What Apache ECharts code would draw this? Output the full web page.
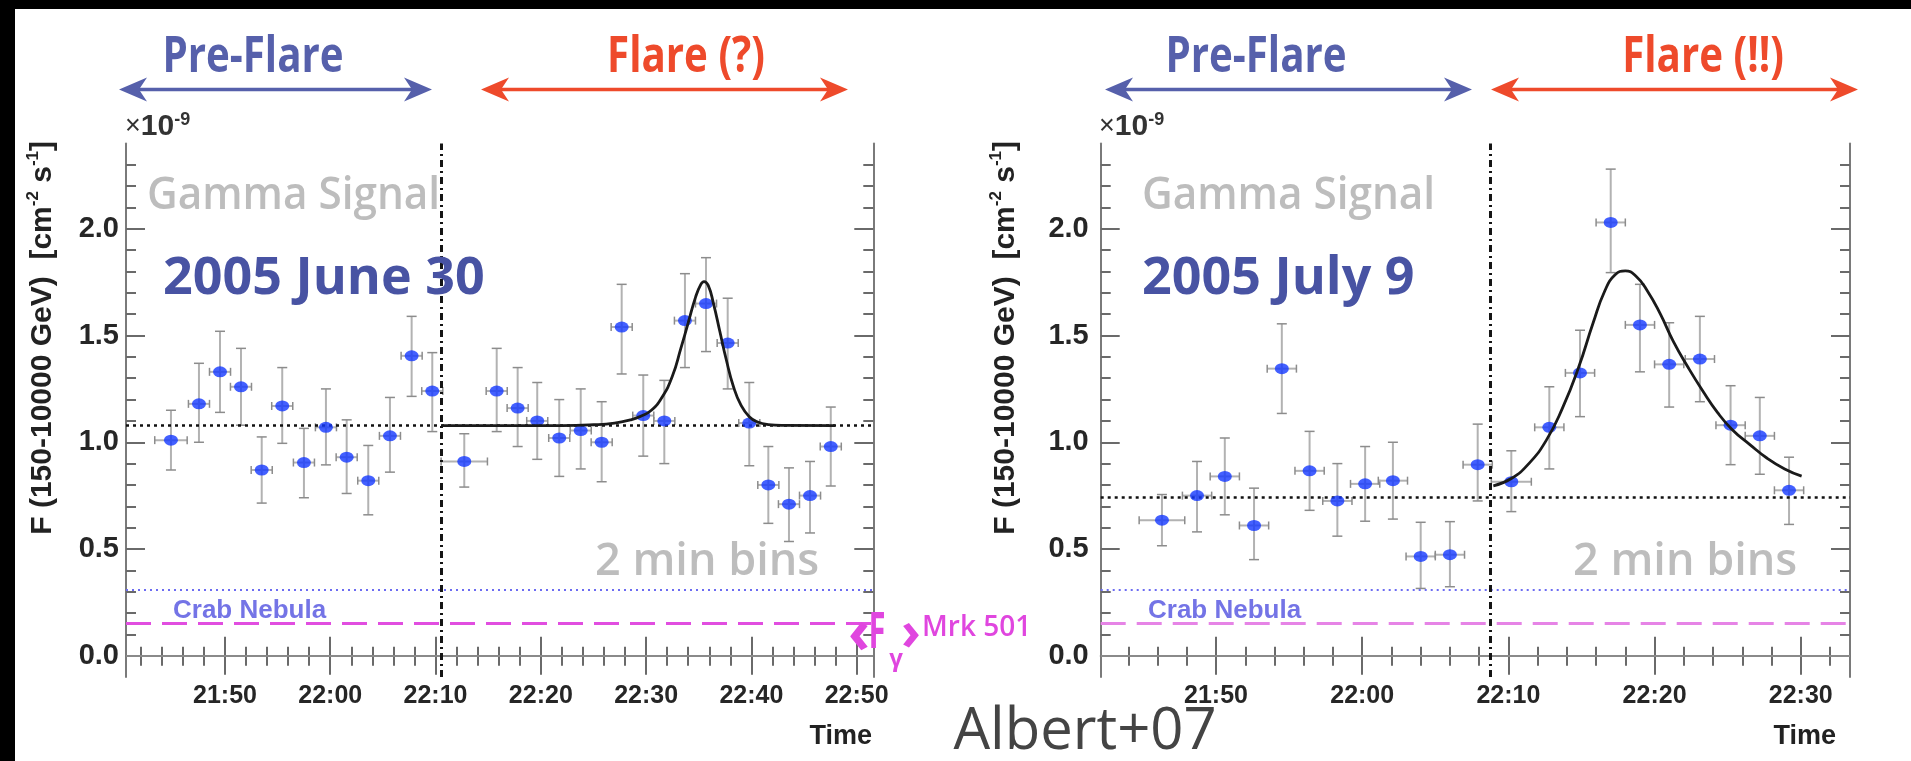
<!DOCTYPE html>
<html><head><meta charset="utf-8">
<script src="https://cdn.jsdelivr.net/npm/echarts@6/dist/echarts.min.js"></script>
<style>html,body{margin:0;padding:0;background:#fff;overflow:hidden}#c{width:1911px;height:761px}</style>
</head><body><div id="c"></div>
<script>
// ---------------- data (time in minutes after 21:00 UTC, flux in 1e-9 cm^-2 s^-1) ----------------
const junTime    = [44.87,47.53,49.53,51.52,53.49,55.44,57.50,59.59,61.56,63.61,65.67,67.73,69.69,72.73,75.81,77.80,79.66,81.75,83.79,85.78,87.68,89.73,91.73,93.69,95.69,97.75,99.80,101.61,103.57,105.57,107.54];
const junFlux    = [1.01,1.18,1.33,1.26,0.87,1.17,0.905,1.07,0.93,0.82,1.03,1.405,1.24,0.91,1.24,1.16,1.10,1.02,1.055,1.00,1.54,1.125,1.10,1.57,1.65,1.465,1.09,0.80,0.71,0.75,0.98];
const junErrUp   = [0.14,0.19,0.19,0.18,0.155,0.18,0.16,0.18,0.175,0.165,0.18,0.185,0.18,0.13,0.20,0.19,0.18,0.18,0.195,0.19,0.20,0.19,0.19,0.22,0.215,0.21,0.19,0.18,0.17,0.16,0.185];
const junErrDn   = [0.14,0.18,0.19,0.18,0.155,0.175,0.165,0.176,0.17,0.16,0.17,0.19,0.19,0.12,0.19,0.18,0.18,0.18,0.18,0.185,0.22,0.19,0.20,0.22,0.225,0.215,0.20,0.18,0.175,0.175,0.185];
const junTimeErr = [1.54,1,1,1,1,1,1,1,1,1,1,1,1,2.2,1,1,1,1,1,1,1,1,1,1,1,1,1,1,1,1,1];
const junFitTime = [70.58,82,85,87,88.5,89.5,90.5,91.5,92.5,93.3,94.0,94.7,95.2,95.5,95.9,96.4,97.0,97.6,98.3,99.0,99.8,100.6,101.6,103,107.94];
const junFitFlux = [1.078,1.078,1.082,1.09,1.105,1.122,1.15,1.21,1.31,1.44,1.56,1.68,1.74,1.753,1.735,1.65,1.52,1.39,1.26,1.175,1.12,1.095,1.083,1.079,1.078];

const julTime    = [46.3,48.7,50.6,52.6,54.5,56.4,58.3,60.2,62.1,64.0,66.0,67.9,70.2,72.8,74.9,77.0,79.0,81.0,83.1,85.2,87.2,89.2];
const julFlux    = [0.635,0.75,0.84,0.61,1.345,0.866,0.725,0.805,0.82,0.465,0.473,0.895,0.815,1.07,1.325,2.03,1.55,1.365,1.39,1.08,1.03,0.775];
const julErrUp   = [0.12,0.16,0.18,0.175,0.21,0.185,0.175,0.175,0.18,0.16,0.155,0.19,0.145,0.19,0.20,0.25,0.19,0.195,0.20,0.185,0.18,0.155];
const julErrDn   = [0.12,0.17,0.18,0.16,0.21,0.185,0.165,0.175,0.18,0.15,0.15,0.17,0.14,0.195,0.205,0.235,0.22,0.20,0.20,0.185,0.18,0.16];
const julTimeErr = [1.56,1,1,1,1,1,1,1,1,1,1,1,1.37,1,1,1,1,1,1,1,1,1];
const julFitTime = [68.97,70.2,71.4,72.6,73.7,74.8,75.8,76.6,77.3,78.0,78.7,79.5,80.4,81.3,82.3,83.3,84.3,85.3,86.5,87.7,88.9,90.06];
const julFitFlux = [0.796,0.83,0.90,1.01,1.16,1.35,1.56,1.71,1.785,1.803,1.78,1.71,1.60,1.47,1.35,1.24,1.14,1.06,0.99,0.925,0.875,0.841];

const junBaseline = 1.078, julBaseline = 0.741;   // pre-flare mean flux
const crabFlux = 0.314, mrkMeanFlux = 0.147;       // reference levels
const junFlareStart = 70.58, julFlareStart = 68.79;
const junRange = [40.6, 111.58], julRange = [42.11, 93.37];
const junTicks = [50,60,70,80,90,100,110];
const junTickLabels = ['21:50','22:00','22:10','22:20','22:30','22:40','22:50'];
const julTicks = [50,60,70,80,90];
const julTickLabels = ['21:50','22:00','22:10','22:20','22:30'];
const yTicks = [0,0.5,1,1.5,2];
const yTickLabels = ['0.0','0.5','1.0','1.5','2.0'];

// ---------------- layout ----------------
const G = [
  {left:126, top:143.5, width:747.3, height:533.5},
  {left:1100.7, top:143.5, width:749.3, height:533.5}
];
const FRAME = '#7a7a7a', TICK = '#6a6a6a';
const yMinor = []; for (let k = 1; k <= 23; k++) if (k % 5) yMinor.push(k / 10);
function evenMinutes(a, b){ const r=[]; for (let m=Math.ceil(a/2)*2; m<=b; m+=2) if (m%10) r.push(m); return r; }

function xAxesFor(gi, range, major, labels){
  const base = {type:'value', gridIndex:gi, min:range[0], max:range[1], splitLine:{show:false}, axisPointer:{show:false}};
  const tk = (len, vals) => ({show:true, inside:true, length:len, customValues:vals, lineStyle:{color:TICK, width:2}});
  const minor = evenMinutes(range[0], range[1]);
  return [
    {...base, position:'bottom', axisLine:{show:false}, axisTick:tk(19, major),
      axisLabel:{show:true, customValues:major, formatter:v=>labels[major.indexOf(v)], margin:7,
        fontSize:25, fontWeight:'bold', fontFamily:'Liberation Sans', color:'#262626'}},
    {...base, position:'bottom', axisLine:{show:false}, axisTick:tk(9, minor), axisLabel:{show:false}},
    {...base, position:'top', axisLine:{show:true, lineStyle:{color:FRAME, width:2}}, axisTick:tk(19, major), axisLabel:{show:false}},
    {...base, position:'top', axisLine:{show:false}, axisTick:tk(10, minor), axisLabel:{show:false}}
  ];
}
function yAxesFor(gi, margin){
  const base = {type:'value', gridIndex:gi, min:-0.1, max:2.4, splitLine:{show:false}, axisPointer:{show:false}};
  const tk = (len, vals) => ({show:true, inside:true, length:len, customValues:vals, lineStyle:{color:TICK, width:2}});
  return [
    {...base, position:'left', axisLine:{show:true, lineStyle:{color:FRAME, width:2}}, axisTick:tk(19, yTicks),
      axisLabel:{show:true, customValues:yTicks, formatter:v=>yTickLabels[yTicks.indexOf(v)], margin:margin,
        fontSize:29, fontWeight:'bold', fontFamily:'Liberation Sans', color:'#262626'}},
    {...base, position:'left', axisLine:{show:false}, axisTick:tk(10, yMinor), axisLabel:{show:false}},
    {...base, position:'right', axisLine:{show:true, lineStyle:{color:FRAME, width:2}}, axisTick:tk(19, yTicks), axisLabel:{show:false}},
    {...base, position:'right', axisLine:{show:false}, axisTick:tk(10, yMinor), axisLabel:{show:false}}
  ];
}

function errRender(params, api){
  const x = api.value(0), y = api.value(1), lo = api.value(2), hi = api.value(3), xe = api.value(4);
  const c = api.coord([x, y]), t = api.coord([x, hi]), b = api.coord([x, lo]);
  const l = api.coord([x - xe, y]), r = api.coord([x + xe, y]);
  const cap = 5;
  const st = {stroke:'#b2b2b2', lineWidth:2};
  const sc = {stroke:'#8c8c8c', lineWidth:1.5};
  return {type:'group', children:[
    {type:'line', shape:{x1:c[0], y1:t[1], x2:c[0], y2:b[1]}, style:st},
    {type:'line', shape:{x1:l[0], y1:c[1], x2:r[0], y2:c[1]}, style:st},
    {type:'line', shape:{x1:c[0]-cap, y1:t[1], x2:c[0]+cap, y2:t[1]}, style:sc},
    {type:'line', shape:{x1:c[0]-cap, y1:b[1], x2:c[0]+cap, y2:b[1]}, style:sc},
    {type:'line', shape:{x1:l[0], y1:c[1]-4, x2:l[0], y2:c[1]+4}, style:sc},
    {type:'line', shape:{x1:r[0], y1:c[1]-4, x2:r[0], y2:c[1]+4}, style:sc}
  ]};
}

function panelSeries(p, T, F, up, dn, te, fitT, fitF, base, start, pink){
  const ax = p * 4;
  const errData = T.map((t,i)=>[t, F[i], F[i]-dn[i], F[i]+up[i], te[i]]);
  return [
    {type:'custom', xAxisIndex:ax, yAxisIndex:ax, renderItem:errRender, data:errData, z:3, silent:true,
     encode:{x:0, y:1},
     markLine:{silent:true, symbol:['none','none'], label:{show:false}, animation:false,
       data:[
         {yAxis:0, lineStyle:{color:'#8a8a8a', width:2, type:'solid'}},
         {yAxis:base, lineStyle:{color:'#111', width:2.5, type:[3,4]}},
         {yAxis:crabFlux, lineStyle:{color:'#6c6cf2', width:1.8, type:[2,4]}},
         {yAxis:mrkMeanFlux, lineStyle:{color:pink, width:3, type:[25,11]}},
         {xAxis:start, lineStyle:{color:'#151515', width:3, type:[7,4,2,4]}}
       ]}},
    {type:'scatter', xAxisIndex:ax, yAxisIndex:ax, data:T.map((t,i)=>[t, F[i]]), symbol:'circle',
     symbolSize:[14,11], itemStyle:{color:'#1438ff'}, z:10, silent:true},
    {type:'line', xAxisIndex:ax, yAxisIndex:ax, data:fitT.map((t,i)=>[t, fitF[i]]), showSymbol:false,
     smooth:0.5, lineStyle:{color:'#1a1a1a', width:2.8}, z:12, silent:true}
  ];
}

// ---------------- annotations ----------------
function txt(x, y, text, o){
  return Object.assign({type:'text', x, y, z:50, silent:true, style:Object.assign({
    text, fill:'#000', fontSize:20, fontFamily:'Open Sans', fontWeight:'normal',
    align:'left', textAlign:'left', verticalAlign:'middle', textVerticalAlign:'middle'}, o.style || {})}, o.el || {});
}
function arrow(x1, x2, y, color){
  const hl = 28, hw = 12, notch = 20;
  return [
    {type:'line', z:50, shape:{x1:x1+notch-2, y1:y, x2:x2-notch+2, y2:y}, style:{stroke:color, lineWidth:3.5}},
    {type:'polygon', z:50, shape:{points:[[x1,y],[x1+hl,y-hw],[x1+notch,y],[x1+hl,y+hw]]}, style:{fill:color}},
    {type:'polygon', z:50, shape:{points:[[x2,y],[x2-hl,y-hw],[x2-notch,y],[x2-hl,y+hw]]}, style:{fill:color}}
  ];
}
const BLUE = '#5660ab', RED = '#ee4a2b', GREY = '#bdbdbd', DATEC = '#4853a3', CRABC = '#7474e6', MAG = '#e046df';
function titleTxt(cx, text, color){
  return txt(cx, 57, text, {style:{fontSize:51, fontWeight:'bold', fill:color, align:'center', textAlign:'center'}, el:{scaleX:0.79, scaleY:1}});
}
function yTitle(cx){
  return {type:'text', x:cx, y:141, rotation:Math.PI/2, z:50, silent:true, style:{
    text:'{a|F (150-10000 GeV)  [cm}{s|-2}{a| s}{s|-1}{a|]}',
    rich:{a:{fontSize:30, fontWeight:'bold', fontFamily:'Liberation Sans', fill:'#222', lineHeight:36},
          s:{fontSize:17, fontWeight:'bold', fontFamily:'Liberation Sans', fill:'#222', lineHeight:15, verticalAlign:'top'}},
    align:'right', textAlign:'right', verticalAlign:'middle', textVerticalAlign:'middle'}};
}
function expTxt(x){
  return {type:'text', x, y:143, z:50, silent:true, style:{
    text:'{m|×}{n|10}{s|-9}',
    rich:{m:{fontSize:27, fontFamily:'Liberation Sans', fill:'#333', lineHeight:32},
          n:{fontSize:30, fontWeight:'bold', fontFamily:'Liberation Sans', fill:'#333', lineHeight:32},
          s:{fontSize:18, fontWeight:'bold', fontFamily:'Liberation Sans', fill:'#333', lineHeight:15, verticalAlign:'top'}},
    align:'left', textAlign:'left', verticalAlign:'bottom', textVerticalAlign:'bottom'}};
}
const gammaEl = {scaleX:0.94};

const graphics = [
  {type:'rect', z:60, shape:{x:0, y:0, width:1911, height:9}, style:{fill:'#000'}},
  {type:'rect', z:60, shape:{x:0, y:0, width:15, height:761}, style:{fill:'#000'}},
  titleTxt(253, 'Pre-Flare', BLUE), titleTxt(686, 'Flare (?)', RED),
  titleTxt(1256, 'Pre-Flare', BLUE), titleTxt(1703, 'Flare (!!)', RED),
  ...arrow(119, 432, 89.5, BLUE), ...arrow(481, 848, 89.5, RED),
  ...arrow(1105, 1472, 89.5, BLUE), ...arrow(1491, 1858, 89.5, RED),
  expTxt(125), expTxt(1099),
  yTitle(43), yTitle(1006),
  txt(147, 196, 'Gamma Signal', {style:{fontSize:45, fontWeight:600, fill:GREY}, el:gammaEl}),
  txt(1142, 196, 'Gamma Signal', {style:{fontSize:45, fontWeight:600, fill:GREY}, el:gammaEl}),
  txt(163, 279, '2005 June 30', {style:{fontSize:52, fontWeight:'bold', fill:DATEC}}),
  txt(1142, 279, '2005 July 9', {style:{fontSize:52, fontWeight:'bold', fill:DATEC}}),
  txt(595, 562, '2 min bins', {style:{fontSize:45, fontWeight:600, fill:GREY}}),
  txt(1573, 562, '2 min bins', {style:{fontSize:45, fontWeight:600, fill:GREY}}),
  txt(173, 611, 'Crab Nebula', {style:{fontSize:26, fontWeight:'bold', fontFamily:'Liberation Sans', fill:CRABC}}),
  txt(1148, 611, 'Crab Nebula', {style:{fontSize:26, fontWeight:'bold', fontFamily:'Liberation Sans', fill:CRABC}}),
  txt(872, 737, 'Time', {style:{fontSize:27, fontWeight:'bold', fontFamily:'Liberation Sans', fill:'#222', align:'right', textAlign:'right'}}),
  txt(1836, 737, 'Time', {style:{fontSize:27, fontWeight:'bold', fontFamily:'Liberation Sans', fill:'#222', align:'right', textAlign:'right'}}),
  txt(859, 636, '‹', {style:{fontSize:60, fontWeight:'bold', fill:MAG, align:'center', textAlign:'center'}}),
  txt(877, 634, 'F', {style:{fontSize:50, fontWeight:'bold', fill:MAG, align:'center', textAlign:'center'}, el:{scaleX:0.62}}),
  txt(896, 659, 'γ', {style:{fontSize:24, fontWeight:'bold', fill:MAG, align:'center', textAlign:'center'}}),
  txt(911, 635, '›', {style:{fontSize:54, fontWeight:'bold', fill:MAG, align:'center', textAlign:'center'}}),
  txt(922, 628, 'Mrk 501', {style:{fontSize:28, fontWeight:600, fill:MAG}}),
  txt(1085, 732, 'Albert+07', {style:{fontSize:58, fill:'#444', align:'center', textAlign:'center'}})
];

const chart = echarts.init(document.getElementById('c'), null, {renderer:'canvas', width:1911, height:761, devicePixelRatio:1});
chart.setOption({
  backgroundColor:'#ffffff',
  animation:false,
  grid:G.map(g=>Object.assign({containLabel:false}, g)),
  xAxis:[...xAxesFor(0, junRange, junTicks, junTickLabels), ...xAxesFor(1, julRange, julTicks, julTickLabels)],
  yAxis:[...yAxesFor(0, 7), ...yAxesFor(1, 12)],
  series:[
    ...panelSeries(0, junTime, junFlux, junErrUp, junErrDn, junTimeErr, junFitTime, junFitFlux, junBaseline, junFlareStart, '#e14ee0'),
    ...panelSeries(1, julTime, julFlux, julErrUp, julErrDn, julTimeErr, julFitTime, julFitFlux, julBaseline, julFlareStart, '#e684e6')
  ],
  graphic:graphics
});
</script></body></html>
